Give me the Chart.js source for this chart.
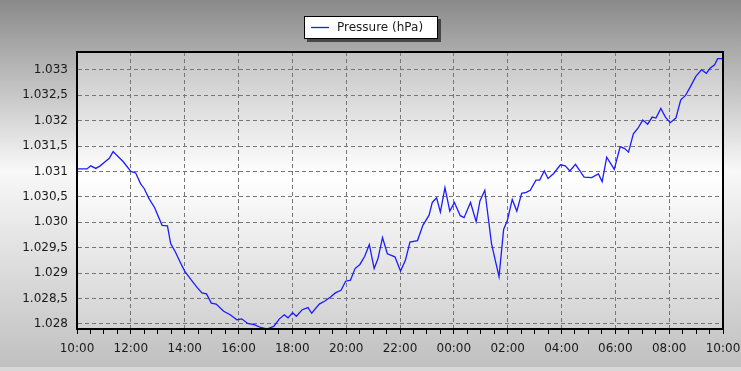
<!DOCTYPE html>
<html>
<head>
<meta charset="utf-8">
<script src="https://cdn.jsdelivr.net/npm/chart.js@4/dist/chart.umd.min.js"></script>
<style>
html,body{margin:0;padding:0;background:#fff;}
#wrap{width:741px;height:371px;}
</style>
</head>
<body>
<div id="wrap"><canvas id="c" width="741" height="371"></canvas></div>
<script>
// Hours elapsed since 10:00 (start of the 24 h window)
const hoursSince10 = [
  0, 0.37, 0.51, 0.70, 0.86, 1.02, 1.20, 1.34, 1.72, 2.00, 2.18, 2.36, 2.50, 2.67, 2.88,
  3.16, 3.36, 3.48, 3.66, 3.83, 4.00, 4.25, 4.46, 4.64, 4.81, 4.99, 5.17, 5.45, 5.69, 5.94,
  6.12, 6.34, 6.61, 6.82, 7.05, 7.31, 7.52, 7.70, 7.84, 8.01, 8.15, 8.37, 8.58, 8.72, 9.00,
  9.21, 9.42, 9.60, 9.81, 9.98, 10.16, 10.33, 10.51, 10.69, 10.86, 11.04, 11.18, 11.35, 11.53, 11.81,
  12.02, 12.20, 12.37, 12.65, 12.85, 13.08, 13.20, 13.36, 13.50, 13.67, 13.85, 14.02, 14.24, 14.38, 14.62,
  14.83, 14.97, 15.15, 15.40, 15.54, 15.68, 15.85, 15.99, 16.17, 16.34, 16.52, 16.69, 16.84, 17.05, 17.19,
  17.36, 17.50, 17.71, 17.96, 18.14, 18.31, 18.52, 18.84, 19.12, 19.37, 19.51, 19.68, 19.96, 20.18, 20.35,
  20.49, 20.67, 20.84, 21.02, 21.20, 21.37, 21.51, 21.69, 21.86, 22.04, 22.25, 22.43, 22.60, 22.78, 22.99,
  23.20, 23.38, 23.52, 23.69, 23.80, 24.00
];
// Pressure in hPa
const pressureHpa = [
  1031.05, 1031.05, 1031.11, 1031.06, 1031.11, 1031.18, 1031.26, 1031.39, 1031.19, 1031.00, 1030.97, 1030.76, 1030.66, 1030.47, 1030.29,
  1029.94, 1029.93, 1029.58, 1029.41, 1029.22, 1029.04, 1028.86, 1028.72, 1028.61, 1028.59, 1028.41, 1028.39, 1028.25, 1028.18, 1028.08,
  1028.10, 1028.01, 1027.98, 1027.93, 1027.90, 1027.95, 1028.10, 1028.18, 1028.12, 1028.22, 1028.15, 1028.28, 1028.32, 1028.21, 1028.39,
  1028.45, 1028.53, 1028.61, 1028.66, 1028.84, 1028.86, 1029.09, 1029.17, 1029.33, 1029.56, 1029.09, 1029.28, 1029.70, 1029.38, 1029.32,
  1029.04, 1029.25, 1029.61, 1029.64, 1029.94, 1030.14, 1030.39, 1030.48, 1030.20, 1030.68, 1030.22, 1030.39, 1030.13, 1030.09, 1030.39,
  1030.01, 1030.42, 1030.63, 1029.58, 1029.25, 1028.93, 1029.86, 1030.04, 1030.45, 1030.22, 1030.57, 1030.59, 1030.63, 1030.83, 1030.83,
  1031.01, 1030.86, 1030.96, 1031.13, 1031.11, 1031.01, 1031.14, 1030.89, 1030.88, 1030.95, 1030.80, 1031.28, 1031.04, 1031.49, 1031.45,
  1031.38, 1031.74, 1031.85, 1032.01, 1031.93, 1032.07, 1032.05, 1032.24, 1032.07, 1031.96, 1032.05, 1032.41, 1032.49, 1032.66, 1032.87,
  1033.00, 1032.93, 1033.03, 1033.10, 1033.22, 1033.22
];
const xTickLabels = ['10:00','12:00','14:00','16:00','18:00','20:00','22:00','00:00','02:00','04:00','06:00','08:00','10:00'];
const yTickLabels = ['1.028','1.028,5','1.029','1.029,5','1.030','1.030,5','1.031','1.031,5','1.032','1.032,5','1.033'];
const seriesLabel = 'Pressure (hPa)';

const points = hoursSince10.map((h, i) => ({x: h, y: pressureHpa[i]}));
const FONT = "'DejaVu Sans', Verdana, sans-serif";

const bgPlugin = {
  id: 'bg',
  beforeDraw(chart) {
    const ctx = chart.ctx, W = chart.width, H = chart.height, a = chart.chartArea;
    ctx.save();
    let g = ctx.createLinearGradient(0, 0, 0, H);
    g.addColorStop(0, '#8a8a8a');
    g.addColorStop(0.46, '#f8f8f8');
    g.addColorStop(1, '#bfbfbf');
    ctx.fillStyle = g;
    ctx.fillRect(0, 0, W, H);
    ctx.fillStyle = '#d8d8d8';
    ctx.fillRect(0, H - 4, W, 4);
    g = ctx.createLinearGradient(0, a.top, 0, a.bottom);
    g.addColorStop(0, '#c4c4c4');
    g.addColorStop(0.45, '#ffffff');
    g.addColorStop(1, '#d2d2d2');
    ctx.fillStyle = g;
    ctx.fillRect(a.left, a.top, a.right - a.left, a.bottom - a.top);
    ctx.restore();
  },
  afterDraw(chart) {
    const ctx = chart.ctx, a = chart.chartArea;
    ctx.save();
    ctx.strokeStyle = '#000';
    ctx.lineWidth = 2;
    ctx.strokeRect(a.left, a.top, a.right - a.left, a.bottom - a.top);
    // legend box
    const ds = chart.data.datasets[0];
    const bx = 304, by = 16, bw = 134, bh = 23;
    ctx.fillStyle = 'rgba(40,40,40,0.75)';
    ctx.fillRect(bx + 3, by + 3, bw, bh);
    ctx.fillStyle = '#fff';
    ctx.fillRect(bx, by, bw, bh);
    ctx.lineWidth = 1;
    ctx.strokeStyle = '#000';
    ctx.strokeRect(bx + 0.5, by + 0.5, bw - 1, bh - 1);
    ctx.strokeStyle = ds.borderColor;
    ctx.lineWidth = 1.3;
    ctx.beginPath();
    ctx.moveTo(311, 27.5);
    ctx.lineTo(329, 27.5);
    ctx.stroke();
    ctx.fillStyle = '#1a1a1a';
    ctx.font = '12px ' + FONT;
    ctx.textBaseline = 'middle';
    ctx.textAlign = 'left';
    ctx.fillText(ds.label, 337, 28);
    ctx.restore();
  }
};

new Chart(document.getElementById('c'), {
  type: 'line',
  data: {
    datasets: [{
      label: seriesLabel,
      data: points,
      borderColor: '#1c1cff',
      borderWidth: 1.3,
      pointRadius: 0,
      tension: 0,
      fill: false
    }]
  },
  options: {
    responsive: false,
    animation: false,
    layout: {padding: {top: 52, right: 18, left: 0, bottom: 0}},
    plugins: {legend: {display: false}, tooltip: {enabled: false}, title: {display: false}},
    scales: {
      x: {
        type: 'linear',
        min: 0, max: 24,
        afterFit(s) { s.height = 42; s.paddingLeft = 0; s.paddingRight = 0; },
        afterBuildTicks(s) {
          const t = [];
          for (let v = 0; v <= 24.0001; v += 0.5) t.push({value: v});
          s.ticks = t;
        },
        ticks: {
          autoSkip: false, maxRotation: 0, padding: 8,
          color: '#1a1a1a',
          font: {family: FONT, size: 12},
          callback: (v) => (Math.abs(v % 2) < 1e-6 ? xTickLabels[Math.round(v / 2)] : '')
        },
        grid: {
          color: (c) => (c.tick && Math.abs(c.tick.value % 2) < 1e-6 ? '#767676' : 'rgba(0,0,0,0)'),
          lineWidth: 1,
          drawTicks: true,
          tickLength: 5,
          tickColor: '#000',
          tickWidth: 1
        },
        border: {display: true, color: '#000', width: 2, dash: [4, 3]}
      },
      y: {
        type: 'linear',
        min: 1027.9, max: 1033.35,
        afterFit(s) { s.width = 77; s.paddingTop = 0; s.paddingBottom = 0; },
        afterBuildTicks(s) {
          const t = [];
          for (let i = 0; i < yTickLabels.length; i++) t.push({value: 1028 + i * 0.5});
          s.ticks = t;
        },
        ticks: {
          padding: 9,
          color: '#1a1a1a',
          font: {family: FONT, size: 12},
          callback: (v) => yTickLabels[Math.round((v - 1028) * 2)]
        },
        grid: {color: '#767676', lineWidth: 1, drawTicks: false},
        border: {display: true, color: '#000', width: 2, dash: [4, 3]}
      }
    }
  },
  plugins: [bgPlugin]
});
</script>
</body>
</html>
